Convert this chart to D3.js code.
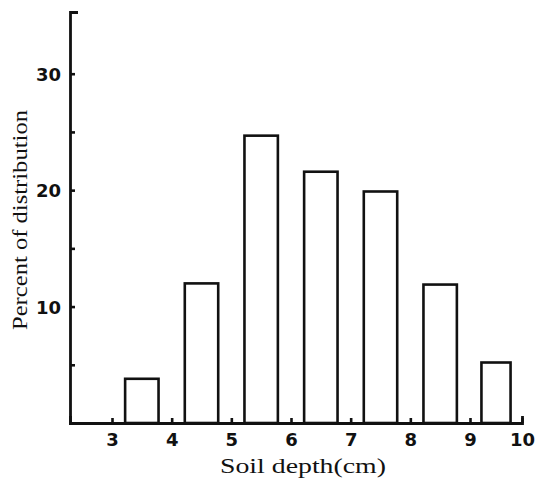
<!DOCTYPE html>
<html lang="en">
	<head>
		<meta charset="UTF-8" />
		<title>Soil depth distribution</title>
		<style>
			body { margin: 0; background: #fff; }
		</style>
	</head>
	<body>
		<svg width="545" height="480" id="svg"></svg>
		<script src="https://cdn.jsdelivr.net/npm/d3@7"></script>
		<script>
			// bins are [start, start+1) in cm
			const binStarts = [3, 4, 5, 6, 7, 8, 9]
			const percents = [3.8, 12.0, 24.7, 21.6, 19.9, 11.9, 5.2]
			const xTickValues = [3, 4, 5, 6, 7, 8, 9, 10]
			const yTickValues = [5, 10, 15, 20, 25, 30]
			const yLabelValues = [10, 20, 30]

			const svg = d3.select("#svg")
			const axisLeftX = 70
			const axisBottomY = 423

			// the printed axis is slightly compressed past 9
			const x = d3.scaleLinear().domain([3, 9, 10]).range([112, 470, 522])
			const y = d3.scaleLinear().domain([0, 30]).range([axisBottomY, 74])

			const ink = "#111"
			const barW = 0.56 // in cm units

			// bars
			svg.append("g")
				.selectAll("rect")
				.data(binStarts)
				.join("rect")
				.attr("x", (d) => x(d + 0.5 - barW / 2))
				.attr("width", (d) => x(d + 0.5 + barW / 2) - x(d + 0.5 - barW / 2))
				.attr("y", (d, i) => y(percents[i]))
				.attr("height", (d, i) => y(0) - y(percents[i]))
				.attr("fill", "#fff")
				.attr("stroke", ink)
				.attr("stroke-width", 2.6)

			// y axis, ticks pointing inwards
			const yAxis = d3
				.axisLeft(y.copy().domain([0, 35.3]).range([axisBottomY, 12]))
				.tickValues(yTickValues)
				.tickSizeInner(-5)
				.tickSizeOuter(-8)
				.tickPadding(9)
				.tickFormat((d) => (yLabelValues.includes(d) ? d : ""))

			const gy = svg
				.append("g")
				.attr("transform", `translate(${axisLeftX},0)`)
				.call(yAxis)

			// x axis, ticks pointing up
			const xAxis = d3
				.axisBottom(
					d3.scaleLinear()
						.domain([3 - (112 - axisLeftX) / 59.67, 3, 9, 10])
						.range([axisLeftX, 112, 470, 522])
				)
				.tickValues(xTickValues)
				.tickSizeInner(-5)
				.tickSizeOuter(-7)
				.tickPadding(10)

			const gx = svg
				.append("g")
				.attr("transform", `translate(0,${axisBottomY})`)
				.call(xAxis)

			for (const g of [gx, gy]) {
				g.select(".domain").attr("stroke", ink).attr("stroke-width", 2.8)
				g.selectAll(".tick line").attr("stroke", ink).attr("stroke-width", 2.6)
				g.selectAll(".tick text")
					.attr("fill", ink)
					.style("font-family", "'DejaVu Sans', sans-serif")
					.style("font-weight", "bold")
					.style("font-size", "18px")
			}
			gy.selectAll(".tick text").attr("dy", "0.36em")
			gx.selectAll(".tick text").attr("dy", "0.7em")

			// axis titles
			svg.append("text")
				.attr("x", 220)
				.attr("y", 473)
				.attr("textLength", 166)
				.attr("lengthAdjust", "spacingAndGlyphs")
				.style("font-family", "'Liberation Serif', serif")
				.style("font-size", "21px")
				.attr("fill", ink)
				.text("Soil depth(cm)")

			svg.append("text")
				.attr("transform", "translate(27,330) rotate(-90)")
				.attr("textLength", 220)
				.attr("lengthAdjust", "spacingAndGlyphs")
				.style("font-family", "'Liberation Serif', serif")
				.style("font-size", "21px")
				.attr("fill", ink)
				.text("Percent of distribution")
		</script>
	</body>
</html>
